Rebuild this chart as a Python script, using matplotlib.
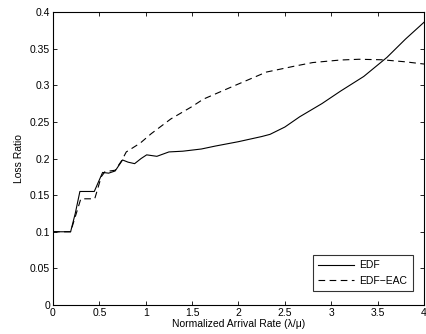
import matplotlib
matplotlib.use("Agg")
import matplotlib.pyplot as plt

plt.rcParams['font.family'] = ['Liberation Sans', 'DejaVu Sans']

edf_x = [0, 0.19, 0.24, 0.29, 0.445, 0.535, 0.6, 0.67, 0.75, 0.81, 0.88, 0.95, 1.01, 1.12,
         1.25, 1.4, 1.6, 1.75, 2.0, 2.25, 2.34, 2.5, 2.66, 2.9, 3.1, 3.35, 3.6, 3.8, 4.0]
edf_y = [0.1, 0.1, 0.125, 0.155, 0.155, 0.181, 0.180, 0.183, 0.198, 0.195, 0.193, 0.200, 0.205, 0.203,
         0.209, 0.210, 0.213, 0.217, 0.223, 0.230, 0.233, 0.243, 0.257, 0.275, 0.292, 0.312, 0.338, 0.363, 0.386]

eac_x = [0, 0.19, 0.30, 0.45, 0.52, 0.56, 0.67, 0.74, 0.79, 0.94, 1.06, 1.27, 1.5, 1.62,
         1.93, 2.3, 2.6, 2.8, 3.1, 3.3, 3.55, 3.8, 4.0]
eac_y = [0.1, 0.1, 0.145, 0.145, 0.175, 0.182, 0.184, 0.197, 0.209, 0.221, 0.234, 0.254, 0.271, 0.281,
         0.298, 0.318, 0.326, 0.331, 0.3345, 0.3355, 0.3348, 0.332, 0.329]

xticks = [0, 0.5, 1, 1.5, 2, 2.5, 3, 3.5, 4]
xtick_labels = ['0', '0.5', '1', '1.5', '2', '2.5', '3', '3.5', '4']
yticks = [0, 0.05, 0.1, 0.15, 0.2, 0.25, 0.3, 0.35, 0.4]
ytick_labels = ['0', '0.05', '0.1', '0.15', '0.2', '0.25', '0.3', '0.35', '0.4']

fig = plt.figure(figsize=(4.26, 3.34), dpi=100)
ax = fig.add_axes([0.1244, 0.0868, 0.8709, 0.8772])

ax.plot(edf_x, edf_y, color='black', linewidth=0.8, linestyle='-', label='EDF')
ax.plot(eac_x, eac_y, color='black', linewidth=0.8, linestyle=(0, (6, 4)), label='EDF\u2212EAC')

ax.set_xlim(0, 4)
ax.set_ylim(0, 0.4)
ax.set_xticks(xticks)
ax.set_xticklabels(xtick_labels)
ax.set_yticks(yticks)
ax.set_yticklabels(ytick_labels)
ax.tick_params(direction='in', top=True, right=True, length=3, width=0.6, labelsize=7.5, pad=2)
for s in ax.spines.values():
    s.set_linewidth(0.8)

ax.set_xlabel('Normalized Arrival Rate (\u03bb/\u03bc)', fontsize=7.5, labelpad=1)
ax.set_ylabel('Loss Ratio', fontsize=7.5, labelpad=4)

leg = ax.legend(loc='lower right', bbox_to_anchor=(0.9695, 0.0488), fontsize=7.5,
                frameon=True, fancybox=False, edgecolor='black', borderpad=0.5,
                handlelength=3.5, handletextpad=0.5, labelspacing=0.5, borderaxespad=0)
leg.get_frame().set_linewidth(0.8)

fig.savefig('out.png', dpi=100)
